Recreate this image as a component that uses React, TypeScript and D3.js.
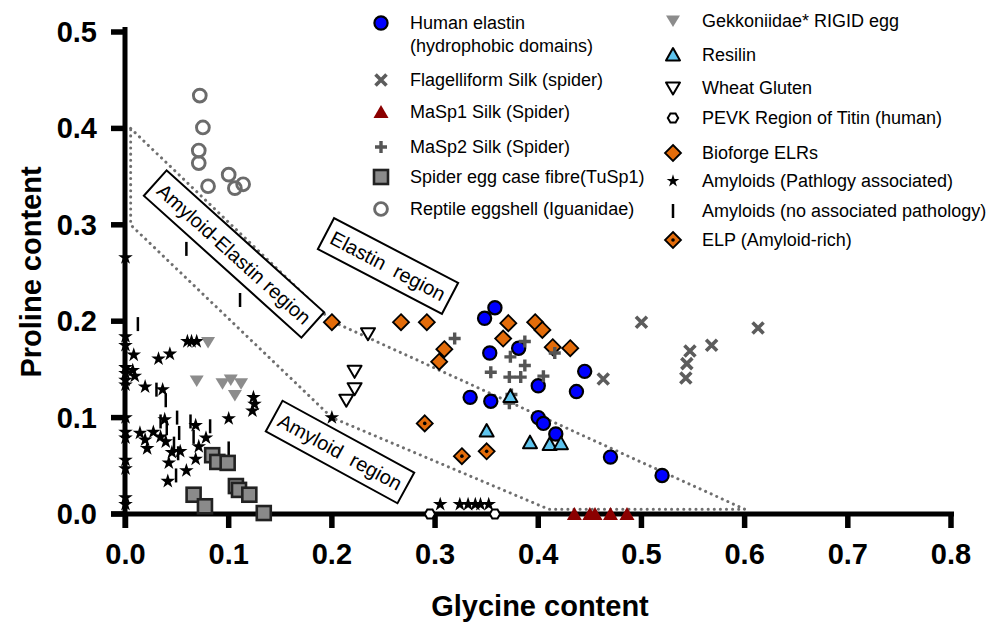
import React from "react";
import * as d3 from "d3";

// ---- data (glycine, proline) ----
const humanElastin: [number, number][] = [
  [0.358, 0.214], [0.348, 0.203], [0.353, 0.167], [0.381, 0.172], [0.334, 0.121],
  [0.354, 0.117], [0.4, 0.133], [0.437, 0.127], [0.445, 0.148], [0.4, 0.1],
  [0.405, 0.094], [0.417, 0.083], [0.47, 0.059], [0.52, 0.04],
];
const flagelliform: [number, number][] = [
  [0.5, 0.199], [0.463, 0.14], [0.547, 0.169], [0.544, 0.156], [0.543, 0.141],
  [0.568, 0.175], [0.613, 0.193],
];
const masp1: [number, number][] = [
  [0.435, 0.0], [0.45, 0.0], [0.455, 0.0], [0.47, 0.0], [0.486, 0.0],
];
const masp2: [number, number][] = [
  [0.319, 0.182], [0.387, 0.179], [0.373, 0.163], [0.387, 0.154], [0.354, 0.147],
  [0.372, 0.142], [0.383, 0.142], [0.405, 0.143], [0.416, 0.167], [0.374, 0.124],
  [0.372, 0.115],
];
const eggCase: [number, number][] = [
  [0.084, 0.061], [0.089, 0.054], [0.099, 0.053], [0.066, 0.02], [0.077, 0.008],
  [0.107, 0.029], [0.11, 0.025], [0.12, 0.02], [0.134, 0.001],
];
const reptile: [number, number][] = [
  [0.072, 0.434], [0.075, 0.401], [0.071, 0.377], [0.071, 0.364], [0.08, 0.34],
  [0.1, 0.352], [0.106, 0.338], [0.114, 0.342],
];
const gekko: [number, number][] = [
  [0.08, 0.178], [0.069, 0.138], [0.094, 0.135], [0.102, 0.139], [0.112, 0.135],
  [0.106, 0.123],
];
const resilin: [number, number][] = [
  [0.35, 0.086], [0.392, 0.074], [0.411, 0.072], [0.422, 0.073], [0.373, 0.122],
];
const wheatGluten: [number, number][] = [
  [0.235, 0.187], [0.222, 0.148], [0.222, 0.13], [0.214, 0.118],
];
const pevk: [number, number][] = [[0.295, 0.0], [0.358, 0.0]];
const bioforge: [number, number][] = [
  [0.2, 0.199], [0.267, 0.199], [0.292, 0.199], [0.309, 0.171], [0.304, 0.158],
  [0.366, 0.182], [0.371, 0.198], [0.397, 0.199], [0.404, 0.191], [0.414, 0.173],
  [0.431, 0.172],
];
const amyloidPath: [number, number][] = [
  // on the y axis
  [0, 0.266], [0, 0.184], [0, 0.175], [0, 0.152], [0, 0.146], [0, 0.139], [0, 0.134],
  [0, 0.1], [0, 0.085], [0, 0.079], [0, 0.056], [0, 0.047], [0, 0.017], [0, 0.01],
  // cluster
  [0.06, 0.179], [0.064, 0.179], [0.069, 0.179], [0.008, 0.165], [0.032, 0.161],
  [0.043, 0.166], [0.007, 0.149], [0.009, 0.143], [0.019, 0.132], [0.036, 0.129],
  [0.124, 0.121], [0.125, 0.114], [0.123, 0.107], [0.1, 0.099], [0.038, 0.098],
  [0.068, 0.092], [0.014, 0.084], [0.027, 0.085], [0.034, 0.08], [0.039, 0.075],
  [0.019, 0.077], [0.021, 0.068], [0.078, 0.079], [0.045, 0.064], [0.053, 0.065],
  [0.071, 0.07], [0.042, 0.053], [0.068, 0.057], [0.059, 0.045], [0.041, 0.034],
  [0.2, 0.1],
  // near glycine 0.3
  [0.305, 0.01], [0.324, 0.01], [0.332, 0.01], [0.339, 0.01], [0.344, 0.01], [0.352, 0.01],
];
const amyloidNoPath: [number, number][] = [
  [0.059, 0.275], [0.111, 0.222], [0.012, 0.197], [0.03, 0.129], [0.039, 0.118],
  [0.05, 0.1], [0.034, 0.096], [0.063, 0.096], [0.082, 0.091], [0.04, 0.089],
  [0.052, 0.084], [0.066, 0.08], [0.047, 0.073], [0.051, 0.063], [0.049, 0.04],
  [0.1, 0.068],
];
const elp: [number, number][] = [[0.29, 0.094], [0.326, 0.06], [0.35, 0.065]];

// region outline (dotted)
const regionOutline: [number, number][] = [
  [0.005, 0.4], [0.2, 0.2], [0.6, 0.005], [0.41, 0.005], [0.2, 0.1], [0.005, 0.3],
];

const xTicks = [0, 0.1, 0.2, 0.3, 0.4, 0.5, 0.6, 0.7, 0.8];
const yTicks = [0, 0.1, 0.2, 0.3, 0.4, 0.5];

const legendLeft = [
  "Human elastin|(hydrophobic domains)",
  "Flagelliform Silk (spider)",
  "MaSp1 Silk (Spider)",
  "MaSp2 Silk (Spider)",
  "Spider egg case fibre(TuSp1)",
  "Reptile eggshell (Iguanidae)",
];
const legendRight = [
  "Gekkoniidae* RIGID egg",
  "Resilin",
  "Wheat Gluten",
  "PEVK Region of Titin (human)",
  "Bioforge ELRs",
  "Amyloids (Pathlogy associated)",
  "Amyloids (no associated pathology)",
  "ELP (Amyloid-rich)",
];

const W = 991;
const H = 625;
const FONT = "'Liberation Sans', Arial, Helvetica, sans-serif";

const x = d3.scaleLinear().domain([0, 0.8]).range([125.5, 951]);
const y = d3.scaleLinear().domain([0, 0.5]).range([514, 32]);

const starPath = d3.symbol(d3.symbolStar, 66)()!;
const starLegend = d3.symbol(d3.symbolStar, 50)()!;
const hexPath =
  d3.line()(d3.range(6).map((k) => [5.2 * Math.cos((k * Math.PI) / 3), 5.2 * Math.sin((k * Math.PI) / 3)] as [number, number])) + "Z";

function Marker({ kind, cx, cy, legend }: { kind: string; cx: number; cy: number; legend?: boolean }) {
  const t = `translate(${cx},${cy})`;
  switch (kind) {
    case "elastin":
      return <circle cx={cx} cy={cy} r={6.6} fill="#0000ff" stroke="#000" strokeWidth={2.2} />;
    case "flag":
      return <path transform={t} d="M-5.5,-5.5L5.5,5.5M-5.5,5.5L5.5,-5.5" stroke="#5c5c5c" strokeWidth={3.6} fill="none" />;
    case "masp1":
      return <path transform={t} d="M0,-7L7.5,6L-7.5,6Z" fill="#8b0000" />;
    case "masp2":
      return <path transform={t} d="M-6,0H6M0,-6V6" stroke="#555" strokeWidth={3.4} fill="none" />;
    case "egg":
      return <rect x={cx - 7} y={cy - 7} width={14} height={14} fill="#8a8a8a" stroke="#222" strokeWidth={2.6} />;
    case "reptile":
      return <circle cx={cx} cy={cy} r={6.4} fill="none" stroke="#6b6b6b" strokeWidth={2.9} />;
    case "gekko":
      return <path transform={t} d="M0,6L7,-5.5L-7,-5.5Z" fill="#8c8c8c" />;
    case "resilin":
      return <path transform={t} d="M0,-7L7,5.5L-7,5.5Z" fill="#5ec4ee" stroke="#000" strokeWidth={2} strokeLinejoin="round" />;
    case "wheat":
      return <path transform={t} d="M0,6.5L7,-5.5L-7,-5.5Z" fill="#fff" stroke="#000" strokeWidth={2} strokeLinejoin="round" />;
    case "pevk":
      return <path transform={t} d={hexPath} fill="#fff" stroke="#000" strokeWidth={2} />;
    case "bioforge":
      return <path transform={t} d="M0,-8L8,0L0,8L-8,0Z" fill="#e36c0a" stroke="#000" strokeWidth={1.8} />;
    case "elp":
      return (
        <g transform={t}>
          <path d="M0,-8L8,0L0,8L-8,0Z" fill="#e36c0a" stroke="#000" strokeWidth={1.8} />
          <circle r={1.8} fill="#000" />
        </g>
      );
    case "amyloid":
      return <path transform={t} d={legend ? starLegend : starPath} fill="#000" />;
    case "amyloidNo":
      return <line x1={cx} x2={cx} y1={cy - 7} y2={cy + 7} stroke="#000" strokeWidth={2.5} />;
    default:
      return null;
  }
}

const series: { kind: string; data: [number, number][] }[] = [
  { kind: "reptile", data: reptile },
  { kind: "amyloidNo", data: amyloidNoPath },
  { kind: "amyloid", data: amyloidPath },
  { kind: "gekko", data: gekko },
  { kind: "egg", data: eggCase },
  { kind: "wheat", data: wheatGluten },
  { kind: "elp", data: elp },
  { kind: "bioforge", data: bioforge },
  { kind: "elastin", data: humanElastin },
  { kind: "masp2", data: masp2 },
  { kind: "resilin", data: resilin },
  { kind: "flag", data: flagelliform },
  { kind: "pevk", data: pevk },
  { kind: "masp1", data: masp1 },
];

const regionBoxes = [
  { cx: 234, cy: 254, w: 212, h: 34, a: 42, text: "Amyloid-Elastin region" },
  { cx: 388, cy: 266, w: 140, h: 35, a: 27.6, text: "Elastin  region" },
  { cx: 340, cy: 452, w: 150, h: 35, a: 28.6, text: "Amyloid  region" },
];

export default function App() {
  const outline = d3.line<[number, number]>().x((d) => x(d[0])).y((d) => y(d[1]));
  const leftKinds = ["elastin", "flag", "masp1", "masp2", "egg", "reptile"];
  const leftRows = [23, 80, 112, 147, 177, 209];
  const rightKinds = ["gekko", "resilin", "wheat", "pevk", "bioforge", "amyloid", "amyloidNo", "elp"];
  const rightRows = [21, 55, 88, 118, 153, 181, 211, 240];

  return (
    <svg width={W} height={H} style={{ position: "absolute", left: 0, top: 0, background: "#fff" }} fontFamily={FONT}>
      <rect width={W} height={H} fill="#fff" />

      {/* dotted region outline */}
      <path
        d={outline(regionOutline) + "Z"}
        fill="none"
        stroke="#6f6f6f"
        strokeWidth={3}
        strokeDasharray="0.1 6"
        strokeLinecap="round"
      />

      {/* region labels */}
      {regionBoxes.map((b, i) => (
        <g key={i} transform={`translate(${b.cx},${b.cy}) rotate(${b.a})`}>
          <rect x={-b.w / 2} y={-b.h / 2} width={b.w} height={b.h} fill="#fff" stroke="#000" strokeWidth={2} />
          <text
            textAnchor="middle"
            dominantBaseline="central"
            fontSize={20}
            fontFamily={FONT}
            style={{ whiteSpace: "pre", fontFamily: FONT }}
          >
            {b.text}
          </text>
        </g>
      ))}

      {/* axes */}
      <line x1={125} x2={125} y1={27} y2={528} stroke="#000" strokeWidth={5} />
      {yTicks.map((t) => (
        <g key={"y" + t}>
          <line x1={111} x2={125} y1={y(t)} y2={y(t)} stroke="#000" strokeWidth={5.5} />
          <text x={97} y={y(t)} textAnchor="end" dominantBaseline="central" fontSize={29} fontWeight="bold">
            {t.toFixed(1)}
          </text>
        </g>
      ))}
      <line x1={111} x2={954} y1={514} y2={514} stroke="#000" strokeWidth={5} />
      {xTicks.map((t) => (
        <g key={"x" + t}>
          <line x1={x(t)} x2={x(t)} y1={514} y2={528} stroke="#000" strokeWidth={5.5} />
          <text x={x(t)} y={564} textAnchor="middle" fontSize={29} fontWeight="bold">
            {t.toFixed(1)}
          </text>
        </g>
      ))}
      <text x={540} y={616} textAnchor="middle" fontSize={29} fontWeight="bold">
        Glycine content
      </text>
      <text transform="translate(41,272) rotate(-90)" textAnchor="middle" fontSize={29} fontWeight="bold">
        Proline content
      </text>

      {/* points */}
      {series.map((s) =>
        s.data.map((d, i) => <Marker key={s.kind + i} kind={s.kind} cx={x(d[0])} cy={y(d[1])} />)
      )}

      {/* legend */}
      {legendLeft.map((lab, i) => (
        <g key={"ll" + i}>
          <Marker kind={leftKinds[i]} cx={381} cy={leftRows[i]} legend />
          {lab.split("|").map((line, j) => (
            <text key={j} x={410} y={leftRows[i] + j * 23} dominantBaseline="central" fontSize={18}>
              {line}
            </text>
          ))}
        </g>
      ))}
      {legendRight.map((lab, i) => (
        <g key={"lr" + i}>
          <Marker kind={rightKinds[i]} cx={673} cy={rightRows[i]} legend />
          <text x={702} y={rightRows[i]} dominantBaseline="central" fontSize={18}>
            {lab}
          </text>
        </g>
      ))}
    </svg>
  );
}
